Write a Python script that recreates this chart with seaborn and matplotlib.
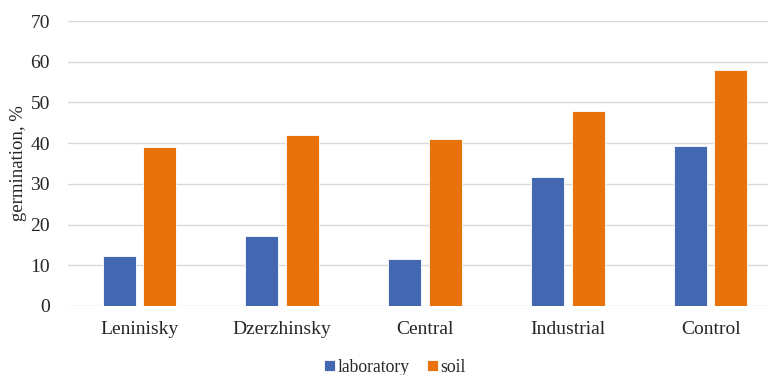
import matplotlib
matplotlib.use("Agg")
import matplotlib.pyplot as plt
import seaborn as sns
import pandas as pd

# Germination by district
districts = ["Leninisky", "Dzerzhinsky", "Central", "Industrial", "Control"]
laboratory = [12.2, 17.2, 11.5, 31.8, 39.2]
soil = [39.0, 42.0, 41.0, 48.0, 58.0]
series_names = ["laboratory", "soil"]
y_ticks = [0, 10, 20, 30, 40, 50, 60, 70]

df = pd.DataFrame({
    "district": districts * 2,
    "value": laboratory + soil,
    "series": [series_names[0]] * len(districts) + [series_names[1]] * len(districts),
})

sns.set_theme(style="white")
plt.rcParams["font.family"] = ["Liberation Serif", "DejaVu Serif"]

fig = plt.figure(figsize=(7.68, 3.75), dpi=100)
ax = fig.add_axes([68 / 768, 1 - 306 / 375, 714 / 768, 285 / 375])

palette = {"laboratory": "#4368B1", "soil": "#E8730A"}
sns.barplot(data=df, x="district", y="value", hue="series", order=districts,
            hue_order=series_names, palette=palette, width=0.567, gap=0.185,
            saturation=1, edgecolor="#FFFFFF", linewidth=0.6, ax=ax, zorder=3)

ax.set_ylim(0, 70)
ax.set_yticks(y_ticks)
ax.set_yticklabels([str(t) for t in y_ticks], fontsize=14)
ax.set_xlim(-0.5, len(districts) - 0.5)
ax.tick_params(axis="x", labelsize=14, length=0, pad=11)
ax.tick_params(axis="y", length=0, pad=13)
ax.grid(axis="y", color="#D9D9D9", linewidth=1.0, zorder=0)
for s in ax.spines.values():
    s.set_visible(False)
ax.set_xlabel("")
ax.set_ylabel("germination, %", fontsize=13.5, labelpad=2)
ax.yaxis.set_label_coords(-0.0574, 0.5)

handles, labels = ax.get_legend_handles_labels()
ax.legend_.remove()
fig.legend(handles, labels, loc="center", bbox_to_anchor=(395 / 768, 1 - 367 / 375),
           ncol=2, frameon=False, fontsize=12.7, handlelength=0.6, handleheight=0.6,
           handletextpad=0.15, columnspacing=1.0)

fig.savefig("out.png", dpi=100)
